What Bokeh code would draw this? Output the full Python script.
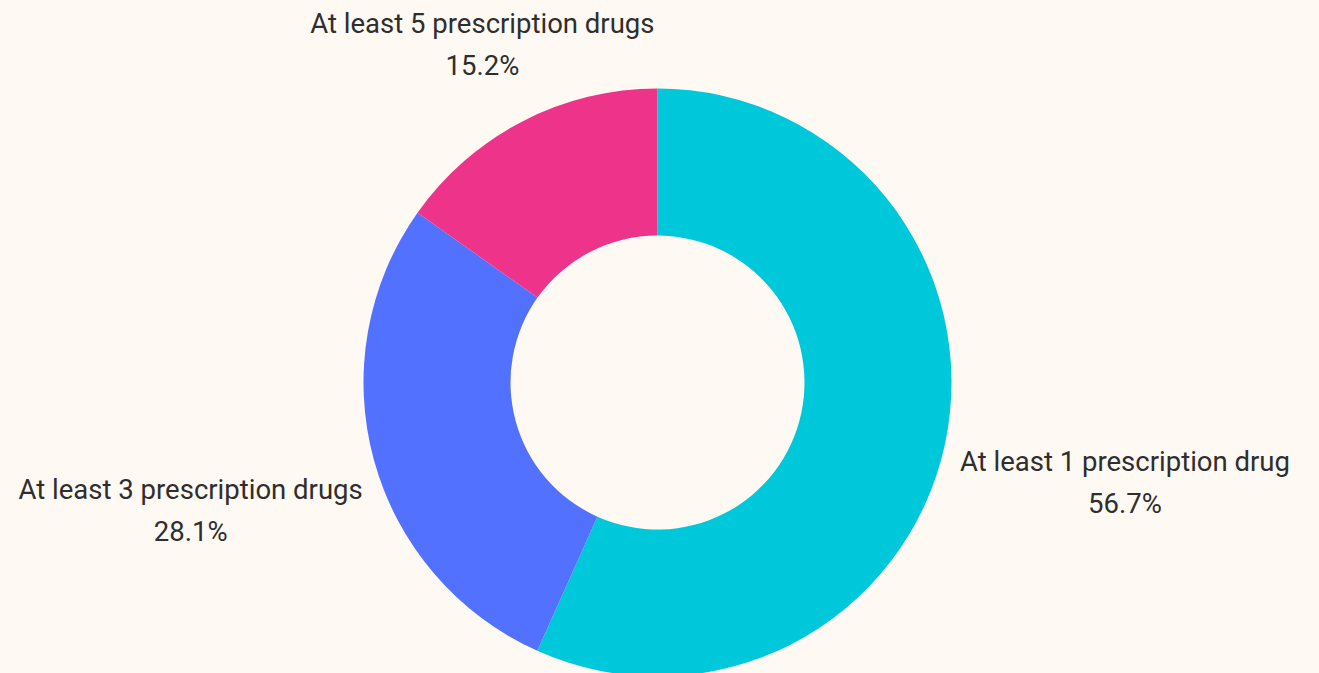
import numpy as np
from bokeh.plotting import figure
from bokeh.models import Range1d, ColumnDataSource
from bokeh.core.properties import value
from bokeh.embed import file_html
from bokeh.resources import INLINE

# ---- data ----
categories = ["At least 1 prescription drug", "At least 3 prescription drugs", "At least 5 prescription drugs"]
shares = [56.7, 28.1, 15.2]
pct_labels = ["56.7%", "28.1%", "15.2%"]
colors = ["#00C8DB", "#5271FF", "#EE348A"]

# ---- layout ----
W, H = 1319, 673
BG = "#FFF9F3"
cx, cy = 657, H - 382
r_outer, r_inner = 294, 147
label_radius = [478, 484, 381]
line_gap = 21

vals = np.array(shares, dtype=float)
frac = vals / vals.sum()
cum = np.concatenate([[0.0], np.cumsum(frac)])
start = np.pi / 2 - cum[:-1] * 2 * np.pi
end = np.pi / 2 - cum[1:] * 2 * np.pi
mid = (start + end) / 2

src = ColumnDataSource(dict(start=start, end=end, color=colors))

p = figure(width=W, height=H, output_backend="svg", toolbar_location=None,
           x_range=Range1d(0, W), y_range=Range1d(0, H), min_border=0)
p.axis.visible = False
p.grid.visible = False
p.outline_line_color = None
p.background_fill_color = BG
p.border_fill_color = BG

p.annular_wedge(x=cx, y=cy, inner_radius=r_inner, outer_radius=r_outer,
                inner_radius_units="screen", outer_radius_units="screen",
                start_angle="start", end_angle="end", direction="clock",
                fill_color="color", line_color=None, source=src)

lx = [cx + r * np.cos(a) for r, a in zip(label_radius, mid)]
ly = [cy + r * np.sin(a) for r, a in zip(label_radius, mid)]

tsrc = ColumnDataSource(dict(x=lx, y1=[y + line_gap for y in ly], y2=[y - line_gap for y in ly],
                             name=categories, pct=pct_labels))
common = dict(text_font=value("Roboto"), text_font_size="27.5px", text_color="#2E2E2E",
              text_align="center", text_baseline="middle", source=tsrc)
p.text(x="x", y="y1", text="name", **common)
p.text(x="x", y="y2", text="pct", **common)

html = file_html(p, INLINE)
html = html.replace("<head>", "<head><style>body{background:%s;}</style>" % BG, 1)
open("out.html", "w").write(html)
